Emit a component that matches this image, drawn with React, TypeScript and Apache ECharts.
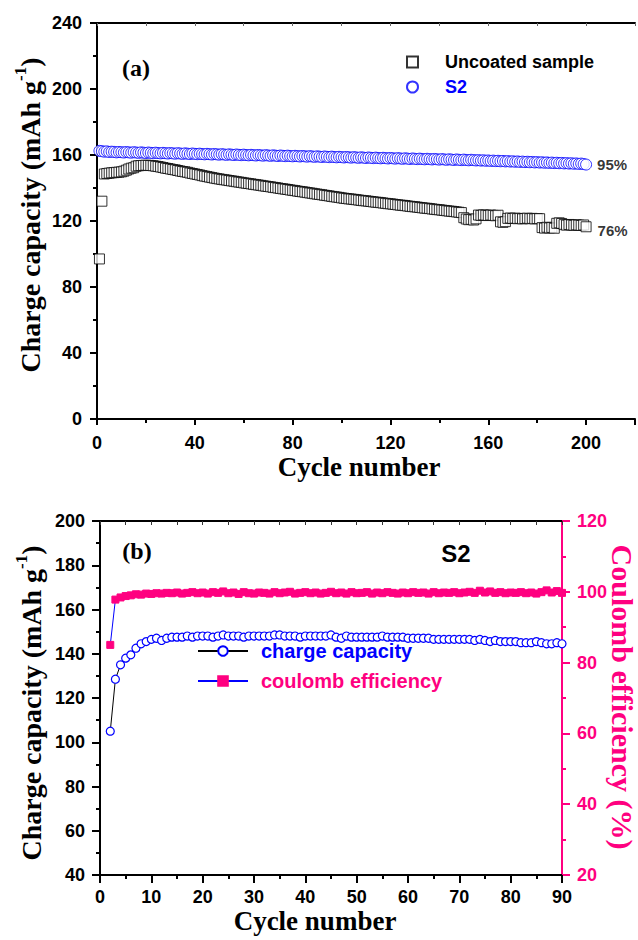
import React, { useEffect, useRef } from 'react';
import * as echarts from 'echarts';

// ---------- Panel (a) data: charge capacity vs cycle number (cycles 1..200) ----------
const uncoatedCapacity = [
  97, 132, 148.5, 148.8, 149, 149.2, 149.3, 149.5, 149.6, 149.8,
  150.2, 150.8, 151.5, 152.0, 152.3, 153.2, 153.5, 153.6, 153.7, 153.8,
  153.7, 153.6, 153.5, 153.2, 153.0, 152.7, 152.4, 152.0, 151.8, 151.5,
  151.2, 151.0, 150.6, 150.3, 150.0, 149.8, 149.5, 149.1, 148.8, 148.5,
  148.2, 147.9, 147.5, 147.2, 146.9, 146.6, 146.3, 146.0, 145.7, 145.5,
  145.2, 145.0, 144.8, 144.5, 144.3, 144.1, 143.8, 143.6, 143.4, 143.1,
  142.9, 142.7, 142.5, 142.2, 142.0, 141.8, 141.6, 141.3, 141.1, 140.9,
  140.7, 140.4, 140.2, 140.0, 139.7, 139.5, 139.3, 139.1, 138.8, 138.6,
  138.4, 138.1, 137.9, 137.7, 137.5, 137.2, 137.0, 136.8, 136.5, 136.3,
  136.1, 135.9, 135.6, 135.4, 135.2, 134.9, 134.7, 134.5, 134.3, 134.0,
  133.8, 133.6, 133.4, 133.3, 133.1, 132.9, 132.7, 132.5, 132.3, 132.2,
  132.0, 131.8, 131.6, 131.4, 131.3, 131.1, 130.9, 130.7, 130.5, 130.4,
  130.2, 130.0, 129.8, 129.6, 129.5, 129.3, 129.1, 128.9, 128.7, 128.6,
  128.4, 128.2, 128.0, 127.8, 127.7, 127.5, 127.3, 127.1, 126.9, 126.8,
  126.6, 126.4, 126.2, 126.0, 125.9, 125.7, 125.5, 125.3, 125.1, 122.0,
  121.2, 120.8, 121.0, 120.6, 121.3, 123.6, 123.4, 123.7, 123.5, 123.3,
  123.6, 123.4, 123.2, 123.5, 119.5, 119.2, 119.6, 121.6, 121.8, 121.5,
  121.7, 121.4, 121.6, 121.3, 121.5, 121.7, 121.4, 121.6, 121.3, 121.5,
  121.4, 116.0, 115.7, 116.2, 115.8, 116.1, 115.6, 118.6, 118.9, 118.5,
  117.8, 117.5, 117.9, 117.6, 117.4, 117.7, 117.5, 117.3, 117.6, 116.5,
];
const s2Capacity = [
  162.5, 162.3, 162.0, 162.2, 161.8, 162.0, 161.9, 161.6, 161.8, 161.7,
  161.5, 161.8, 161.6, 161.4, 161.7, 161.5, 161.3, 161.6, 161.4, 161.2,
  161.5, 161.3, 161.1, 161.4, 161.2, 161.0, 161.3, 161.1, 160.9, 161.2,
  161.0, 160.8, 161.1, 160.9, 160.7, 161.0, 160.8, 160.6, 160.9, 160.7,
  160.5, 160.8, 160.6, 160.4, 160.7, 160.5, 160.3, 160.6, 160.4, 160.2,
  160.5, 160.3, 160.1, 160.4, 160.2, 160.0, 160.3, 160.1, 159.9, 160.2,
  160.0, 159.8, 160.1, 159.9, 159.7, 160.0, 159.8, 159.6, 159.9, 159.7,
  159.5, 159.8, 159.6, 159.4, 159.7, 159.5, 159.3, 159.6, 159.4, 159.2,
  159.5, 159.3, 159.1, 159.4, 159.2, 159.0, 159.3, 159.1, 158.9, 159.2,
  159.0, 158.8, 159.1, 158.9, 158.7, 159.0, 158.8, 158.6, 158.9, 158.7,
  158.5, 158.8, 158.6, 158.4, 158.7, 158.5, 158.3, 158.6, 158.4, 158.2,
  158.5, 158.3, 158.1, 158.4, 158.2, 158.0, 158.3, 158.1, 157.9, 158.2,
  158.0, 157.8, 158.1, 157.9, 157.7, 158.0, 157.8, 157.6, 157.9, 157.7,
  157.5, 157.8, 157.6, 157.4, 157.7, 157.5, 157.3, 157.6, 157.4, 157.2,
  157.5, 157.3, 157.1, 157.4, 157.2, 157.0, 157.3, 157.1, 156.9, 157.2,
  157.0, 156.8, 157.1, 156.9, 156.7, 156.9, 156.6, 156.8, 156.5, 156.7,
  156.4, 156.6, 156.3, 156.5, 156.2, 156.4, 156.1, 156.3, 156.0, 156.2,
  155.9, 156.1, 155.8, 156.0, 155.7, 155.9, 155.6, 155.8, 155.5, 155.7,
  155.4, 155.6, 155.3, 155.5, 155.2, 155.4, 155.1, 155.3, 155.0, 155.2,
  154.9, 155.1, 154.8, 155.0, 154.7, 154.9, 154.6, 154.8, 154.5, 154.2,
];
const retentionLabels = ['76%', '95%'];

// ---------- Panel (b) data: S2, cycles 2..90 ----------
const firstCycleB = 2;
const chargeCapacityB = [
  105, 128.5, 135, 138, 139.5, 142.5, 144.5, 145.5, 146.5, 147,
  146, 147, 147.5, 147.5, 147.5, 148, 147.5, 148, 148, 148,
  147.5, 148, 148.5, 148, 148, 148, 147.5, 148, 148, 148,
  148, 148, 148.5, 148.5, 148, 148, 148, 147.5, 148, 148,
  148, 148, 148, 148.5, 147.5, 147, 148, 147.5, 147.5, 147.5,
  147.5, 147.5, 147.5, 148, 147.5, 147.5, 147.5, 147.5, 147, 147,
  147, 147, 147, 146.5, 146.5, 146.5, 146.5, 146.5, 146.5, 146.5,
  146.5, 146, 146.5, 146, 145.5, 146, 145.5, 145.5, 145.5, 145.5,
  145, 145, 145, 145.5, 145, 144.5, 144.5, 145, 144.5,
];
const coulombEfficiencyB = [
  85, 97.8, 98.4, 98.8, 99.0, 99.3, 99.2, 99.5, 99.4, 99.6,
  99.5, 99.7, 99.6, 99.8, 99.5, 99.7, 99.9, 99.6, 99.8, 99.5,
  99.9, 99.7, 100.1, 99.6, 99.8, 99.4, 99.9, 99.6, 99.5, 99.8,
  99.7, 99.5, 99.9, 99.6, 99.8, 100.0, 99.5, 99.7, 99.9, 99.6,
  99.8, 99.5, 99.7, 100.0, 99.6, 99.8, 99.5, 99.9, 99.6, 99.7,
  99.9, 99.5, 99.8, 99.6, 99.9, 99.7, 99.5, 99.8, 99.6, 99.9,
  99.7, 99.8, 99.5, 99.9, 99.6, 99.8, 99.7, 99.9, 99.6, 99.8,
  100.0, 99.7, 100.3, 99.8, 100.1, 99.7, 99.9, 99.6, 99.8, 99.7,
  99.9, 99.6, 99.8, 99.5, 99.9, 100.4, 99.8, 100.2, 99.7,
];

const BLUE = '#0000FF';
const PINK = '#FF0080';
const SANS = '"Liberation Sans", Arial, sans-serif';
const SERIF = '"Liberation Serif", "Times New Roman", serif';

function valueAxis(o: any) {
  const color = o.color || '#000';
  return {
    type: 'value',
    gridIndex: o.gridIndex,
    position: o.position,
    min: o.min,
    max: o.max,
    interval: o.interval,
    axisLine: { show: true, onZero: false, lineStyle: { color, width: 2 } },
    axisTick: {
      show: true,
      inside: !!o.inside,
      length: o.tickLen ?? 7,
      lineStyle: { color: o.tickColor || color, width: o.tickWidth ?? 2 },
    },
    minorTick: {
      show: !!o.minor,
      splitNumber: 2,
      length: 4,
      lineStyle: { color, width: 2 },
    },
    axisLabel: o.noLabel
      ? { show: false }
      : {
          show: true,
          margin: o.margin ?? 14,
          fontSize: 18,
          fontWeight: 'bold',
          fontFamily: SANS,
          color,
          formatter: o.formatter,
        },
    splitLine: { show: false },
    minorSplitLine: { show: false },
  };
}

export default function App() {
  const ref = useRef<HTMLDivElement>(null);
  useEffect(() => {
    if (!ref.current) return;
    const chart = echarts.init(ref.current, undefined, { renderer: 'svg' });

    const uncoatedData: any[] = uncoatedCapacity.map((v, i) => [i + 1, v]);
    const lastU = uncoatedData.length - 1;
    uncoatedData[lastU] = {
      value: uncoatedData[lastU],
      label: {
        show: true, position: 'right', distance: 6, offset: [0, 4],
        formatter: retentionLabels[0], color: '#000', fontSize: 15,
        fontWeight: 'bold', fontFamily: SANS,
      },
    };
    const s2Data: any[] = s2Capacity.map((v, i) => [i + 1, v]);
    const lastS = s2Data.length - 1;
    s2Data[lastS] = {
      value: s2Data[lastS],
      label: {
        show: true, position: 'right', distance: 5, offset: [0, 0],
        formatter: retentionLabels[1], color: '#000', fontSize: 15,
        fontWeight: 'bold', fontFamily: SANS,
      },
    };
    const capB = chargeCapacityB.map((v, i) => [i + firstCycleB, v]);
    const ceB = coulombEfficiencyB.map((v, i) => [i + firstCycleB, v]);

    const titleStyle = (text: string, color = '#000', size = 28) => ({
      text,
      fill: color,
      fontSize: size,
      fontWeight: 'bold',
      fontFamily: SERIF,
      align: 'center',
      verticalAlign: 'middle',
    });
    const capTitle = (x: number, y: number) => ({
      type: 'text',
      x,
      y,
      rotation: Math.PI / 2,
      style: {
        text: '{m|Charge capacity (mAh g}{s|-1}{m|)}',
        align: 'center',
        verticalAlign: 'middle',
        rich: {
          m: { fontSize: 28, fontWeight: 'bold', fontFamily: SERIF, fill: '#000', lineHeight: 32, verticalAlign: 'bottom' },
          s: { fontSize: 17, fontWeight: 'bold', fontFamily: SERIF, fill: '#000', lineHeight: 32, verticalAlign: 'top' },
        },
      },
    });

    chart.setOption({
      animation: false,
      backgroundColor: '#fff',
      grid: [
        { left: 97, right: -2, top: 23, bottom: 521 },
        { left: 100, right: 76, top: 521, bottom: 65 },
      ],
      xAxis: [
        valueAxis({ gridIndex: 0, position: 'bottom', min: 0, max: 220, interval: 40, minor: true, tickLen: 6, margin: 15,
          formatter: (v: number) => (v > 200 ? '' : String(v)) }),
        valueAxis({ gridIndex: 0, position: 'top', min: 0, max: 220, interval: 20, inside: true, tickLen: 3, tickWidth: 1, tickColor: '#666', noLabel: true }),
        valueAxis({ gridIndex: 1, position: 'bottom', min: 0, max: 90, interval: 10, minor: true, tickLen: 8, margin: 13 }),
        valueAxis({ gridIndex: 1, position: 'top', min: 0, max: 90, interval: 5, inside: true, tickLen: 4, tickWidth: 1, tickColor: '#333', noLabel: true }),
      ],
      yAxis: [
        valueAxis({ gridIndex: 0, position: 'left', min: 0, max: 240, interval: 40, minor: true, tickLen: 7, margin: 15 }),
        valueAxis({ gridIndex: 1, position: 'left', min: 40, max: 200, interval: 20, minor: true, tickLen: 8, margin: 15 }),
        valueAxis({ gridIndex: 1, position: 'right', min: 20, max: 120, interval: 20, minor: true, tickLen: 8, margin: 15, color: PINK }),
      ],
      legend: [
        {
          orient: 'vertical', left: 401, top: 48, itemWidth: 11, itemHeight: 11, itemGap: 7,
          selectedMode: false,
          textStyle: { fontSize: 18, fontWeight: 'bold', fontFamily: SANS, padding: [0, 0, 0, 22] },
          data: [
            { name: 'Uncoated sample', textStyle: { color: '#000' } },
            { name: 'S2', textStyle: { color: BLUE } },
          ],
        },
        {
          orient: 'vertical', left: 192, top: 636, itemWidth: 50, itemHeight: 12, itemGap: 10,
          selectedMode: false,
          textStyle: { fontSize: 20, fontWeight: 'bold', fontFamily: SANS, padding: [0, 0, 0, 8] },
          data: [
            { name: 'charge capacity', textStyle: { color: BLUE } },
            { name: 'coulomb efficiency', textStyle: { color: PINK } },
          ],
        },
      ],
      series: [
        {
          name: 'Uncoated sample', type: 'scatter', xAxisIndex: 0, yAxisIndex: 0,
          symbol: 'rect', symbolSize: 10,
          itemStyle: { color: '#fff', borderColor: '#000', borderWidth: 1 },
          data: uncoatedData,
        },
        {
          name: 'S2', type: 'scatter', xAxisIndex: 0, yAxisIndex: 0,
          symbol: 'circle', symbolSize: 11,
          itemStyle: { color: '#fff', borderColor: BLUE, borderWidth: 1 },
          data: s2Data,
        },
        {
          name: 'charge capacity', type: 'line', xAxisIndex: 2, yAxisIndex: 1,
          symbol: 'circle', symbolSize: 8, showSymbol: true,
          lineStyle: { color: '#000', width: 1 },
          itemStyle: { color: '#fff', borderColor: BLUE, borderWidth: 1.2 },
          data: capB,
        },
        {
          name: 'coulomb efficiency', type: 'line', xAxisIndex: 2, yAxisIndex: 2,
          symbol: 'rect', symbolSize: 7, showSymbol: true,
          lineStyle: { color: BLUE, width: 1 },
          itemStyle: { color: PINK, borderColor: PINK, borderWidth: 1 },
          data: ceB,
        },
      ],
      graphic: [
        { type: 'text', x: 136, y: 68, style: titleStyle('(a)', '#000', 24) },
        { type: 'text', x: 137, y: 551, style: titleStyle('(b)', '#000', 24) },
        { type: 'text', x: 456, y: 553, style: { text: 'S2', fill: '#000', fontSize: 24, fontWeight: 'bold', fontFamily: SANS, align: 'center', verticalAlign: 'middle' } },
        { type: 'text', x: 359, y: 467, style: titleStyle('Cycle number', '#000', 27) },
        { type: 'text', x: 315, y: 921, style: titleStyle('Cycle number', '#000', 27) },
        capTitle(28, 215),
        capTitle(29, 703),
        { type: 'text', x: 622, y: 697, rotation: -Math.PI / 2, style: titleStyle('Coulomb efficiency (%)', PINK, 30) },
      ],
    });
    return () => chart.dispose();
  }, []);
  return (
    <div style={{ position: 'fixed', left: 0, top: 0, width: 638, height: 940, overflow: 'hidden', background: '#fff' }}>
      <div ref={ref} style={{ width: 638, height: 940 }} />
    </div>
  );
}
